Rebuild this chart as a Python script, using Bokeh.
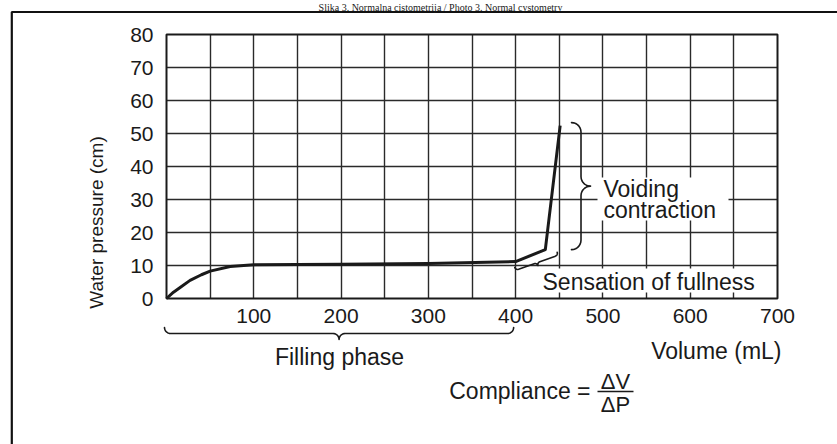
import numpy as np
from bokeh.plotting import figure
from bokeh.models import Range1d, FixedTicker, Label, Grid
from bokeh.embed import file_html
from bokeh.resources import INLINE

# ---------------- data ----------------
volume_ml = [0, 8, 16, 27, 40, 50, 73, 100, 200, 300, 400, 434, 451]
pressure_cm = [0, 1.9, 3.4, 5.5, 7.2, 8.3, 9.7, 10.2, 10.4, 10.6, 11.2, 14.8, 52.4]
x_tick_values = [100, 200, 300, 400, 500, 600, 700]
y_tick_values = [0, 10, 20, 30, 40, 50, 60, 70, 80]
x_grid_values = [50, 100, 150, 200, 250, 300, 350, 400, 450, 500, 550, 600, 650]
y_grid_values = [10, 20, 30, 40, 50, 60, 70]
filling_span = [0, 400]           # volume span of filling phase
voiding_span = [53.3, 14.8]       # pressure span of voiding contraction
voiding_at = 464                  # volume where the voiding brace stands
sensation_from = [399, 9.4]
sensation_to = [447.6, 14.0]

# ---------------- layout (canvas pixels) ----------------
W, H = 837, 444
FL, FT, FW, FH = 166, 34, 611, 264
XMAX, YMAX = 700, 80
SX = FW / XMAX
SY = FH / YMAX

def wx(v): return FL + v * SX
def wy(v): return FT + FH - v * SY
def dx(px): return (np.asarray(px, float) - FL) / SX
def dy(py): return (FT + FH - np.asarray(py, float)) / SY

FONT = "Liberation Sans"
INK = "#1a1a1a"

p = figure(width=W, height=H, min_border=0,
           x_range=Range1d(float(dx(0)), float(dx(W))),
           y_range=Range1d(float(dy(H)), float(dy(0))),
           output_backend="svg", toolbar_location=None,
           background_fill_color="white", border_fill_color="white")
p.outline_line_color = None

# axes drawn inside the frame at the data origin
p.xaxis.fixed_location = 0
p.yaxis.fixed_location = 0
p.xaxis.ticker = FixedTicker(ticks=x_tick_values)
p.yaxis.ticker = FixedTicker(ticks=y_tick_values)
for ax in (p.xaxis, p.yaxis):
    ax.axis_line_color = None
    ax.major_tick_line_color = None
    ax.minor_tick_line_color = None
    ax.major_label_text_font = FONT
    ax.major_label_text_font_size = "21px"
    ax.major_label_text_color = INK
p.xaxis.major_label_standoff = 4
p.yaxis.major_label_standoff = 7
p.yaxis.axis_label = "Water pressure (cm)"
p.yaxis.axis_label_text_font = FONT
p.yaxis.axis_label_text_font_size = "19px"
p.yaxis.axis_label_text_font_style = "normal"
p.yaxis.axis_label_text_color = INK
p.yaxis.axis_label_standoff = 20

# grid limited to the chart area
p.xgrid.ticker = FixedTicker(ticks=x_grid_values)
p.ygrid.ticker = FixedTicker(ticks=y_grid_values)
has_cross = "cross_bounds" in Grid.properties()
for g, b, cb in ((p.xgrid, (0, XMAX), (0, YMAX)), (p.ygrid, (0, YMAX), (0, XMAX))):
    g.grid_line_color = "#2a2a2a"
    g.grid_line_width = 1.4
    g.bounds = b
    if has_cross:
        g.cross_bounds = cb
    else:
        g.grid_line_color = None
if not has_cross:
    p.segment(x0=x_grid_values, x1=x_grid_values, y0=0, y1=YMAX,
              line_color="#2a2a2a", line_width=1.4, level="underlay")
    p.segment(x0=0, x1=XMAX, y0=y_grid_values, y1=y_grid_values,
              line_color="#2a2a2a", line_width=1.4, level="underlay")

# white label boxes hiding the grid
p.quad(left=dx(597), right=dx(728), top=dy(177), bottom=dy(220),
       fill_color="white", line_color=None)
p.quad(left=dx(540), right=XMAX - 0.8, top=dy(268), bottom=dy(292),
       fill_color="white", line_color=None)

# chart border
p.quad(left=0, right=XMAX, bottom=0, top=YMAX, fill_color=None,
       line_color=INK, line_width=2)

# curve
p.line(volume_ml, pressure_cm, line_width=3, line_color=INK, line_join="round")


def brace(p0, p1, r, flip=False, n=8):
    p0 = np.array(p0, float)
    p1 = np.array(p1, float)
    t = p1 - p0
    t /= np.hypot(*t)
    nv = np.array([-t[1], t[0]])
    if flip:
        nv = -nv
    m = (p0 + p1) / 2
    th = np.linspace(0, np.pi / 2, n)[:, None]

    def half(pp, tt):
        c = pp + tt * r
        a1 = c + r * (-np.cos(th) * tt + np.sin(th) * nv)
        d = m - tt * r + nv * 2 * r
        a2 = d + r * (-np.cos(th) * nv + np.sin(th) * tt)
        return np.vstack([a1, a2])

    pts = np.vstack([half(p0, t), half(p1, -t)[::-1]])
    p.line(x=dx(pts[:, 0]), y=dy(pts[:, 1]), line_color=INK, line_width=1.6,
           line_join="round", line_cap="round")

brace((wx(filling_span[0]) - 2, 327), (wx(filling_span[1]) - 2, 327), 6)
brace((wx(voiding_at), wy(voiding_span[0])),
      (wx(voiding_at), wy(voiding_span[1])), 9.5, flip=True)
brace((wx(sensation_from[0]), wy(sensation_from[1])),
      (wx(sensation_to[0]), wy(sensation_to[1])), 3)

# outer frame of the scanned figure
p.line(x=dx([11.3, 11.3, 900]), y=dy([700, 11.5, 11.5]),
       line_color="#111111", line_width=2.2)

# fraction bar
p.line(x=dx([597, 633]), y=dy([391, 391]), line_color=INK, line_width=1.5)

LIFT = 6  # alphabetic baseline correction


def lab(text, px, py, align="left", size="23px", font=FONT):
    p.add_layout(Label(x=float(dx(px)), y=float(dy(py - LIFT)), text=text,
                       text_font=font, text_font_size=size, text_color=INK,
                       text_align=align, text_baseline="alphabetic"))

# caption above the scanned figure
p.add_layout(Label(x=float(dx(440)), y=float(dy(1)),
                   text="Slika 3. Normalna cistometrija / Photo 3. Normal cystometry",
                   text_font="Liberation Serif", text_font_size="10px",
                   text_color=INK, text_align="center", text_baseline="top"))

lab("Voiding", 603, 194)
lab("contraction", 603, 215)
lab("Sensation of fullness", 542, 287)
lab("Filling phase", 339, 362, align="center")
lab("Volume (mL)", 781, 356, align="right")
lab("Compliance =", 590, 396, align="right")
lab("\u0394V", 615, 387, align="center", size="22px")
lab("\u0394P", 615, 410, align="center", size="22px")

open("out.html", "w").write(file_html(p, INLINE))
